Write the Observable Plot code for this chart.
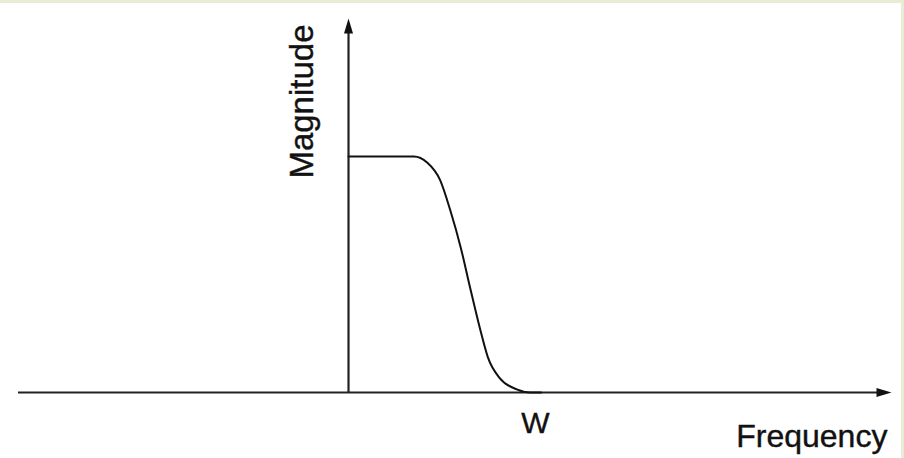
<!DOCTYPE html>
<html><head><meta charset="utf-8">
<script src="https://cdn.jsdelivr.net/npm/d3@7"></script>
<script src="https://cdn.jsdelivr.net/npm/@observablehq/plot@0.6"></script>
<style>
html,body{margin:0;padding:0;background:#fff;}
#frame{width:901px;height:455px;border-top:3px solid #e8ecd4;border-right:3px solid #e8ecd4;background:#fff;}
svg{display:block}
</style></head><body><div id="frame"></div>
<script>
// Low-pass filter magnitude response (frequency in units of cutoff W)
const frequency = [0, 0.35, 0.42, 0.49, 0.545, 0.6, 0.65, 0.705, 0.745, 0.81, 0.9, 0.97, 1.03];
const magnitude = [1, 1, 0.975, 0.9, 0.77, 0.615, 0.445, 0.265, 0.15, 0.06, 0.013, 0, 0];
const xDomain = [-1.765, 2.904];
const yDomain = [0, 1.585];
const axisLabels = ["Frequency", "Magnitude"];
const tickLabel = "W";
const cutoff = 1;

const curve = frequency.map((f, i) => ({f, m: magnitude[i]}));

const arrowHead = {
  draw(ctx) {
    ctx.moveTo(0, 0);
    ctx.lineTo(4.5, 15);
    ctx.lineTo(-4.5, 15);
    ctx.closePath();
  }
};

const font = "'Liberation Sans', Arial, Helvetica, sans-serif";

const chart = Plot.plot({
  width: 901,
  height: 455,
  marginLeft: 18,
  marginRight: 10,
  marginTop: 15,
  marginBottom: 66,
  x: {domain: xDomain, axis: null},
  y: {domain: yDomain, axis: null},
  style: {fontFamily: font, background: "white", overflow: "visible"},
  marks: [
    Plot.ruleY([0], {x1: xDomain[0], x2: xDomain[1] - 0.03, stroke: "#222", strokeWidth: 2.2}),
    Plot.ruleX([0], {y1: 0, y2: yDomain[1] - 0.03, stroke: "#222", strokeWidth: 2.2}),
    Plot.dot([{x: 0, y: yDomain[1], r: 0}, {x: xDomain[1], y: 0, r: 90}], {
      x: "x", y: "y", rotate: "r", symbol: arrowHead, fill: "#111", stroke: "none", r: 5
    }),
    Plot.line(curve, {x: "f", y: "m", curve: "monotone-x", stroke: "#111", strokeWidth: 2}),
    Plot.text([tickLabel], {x: cutoff, y: -0.131, text: d => d, fontSize: 30, fill: "#111", stroke: "#111", strokeWidth: 0.4, textAnchor: "middle"}),
    Plot.text([axisLabels[0]], {x: 2.882, y: -0.186, text: d => d, fontSize: 32, fill: "#111", stroke: "#111", strokeWidth: 0.4, textAnchor: "end"}),
    Plot.text([axisLabels[1]], {x: -0.245, y: 1.233, text: d => d, fontSize: 33, fill: "#111", stroke: "#111", strokeWidth: 0.4, textAnchor: "middle", rotate: -90})
  ]
});
document.getElementById("frame").appendChild(chart);
</script></body></html>
